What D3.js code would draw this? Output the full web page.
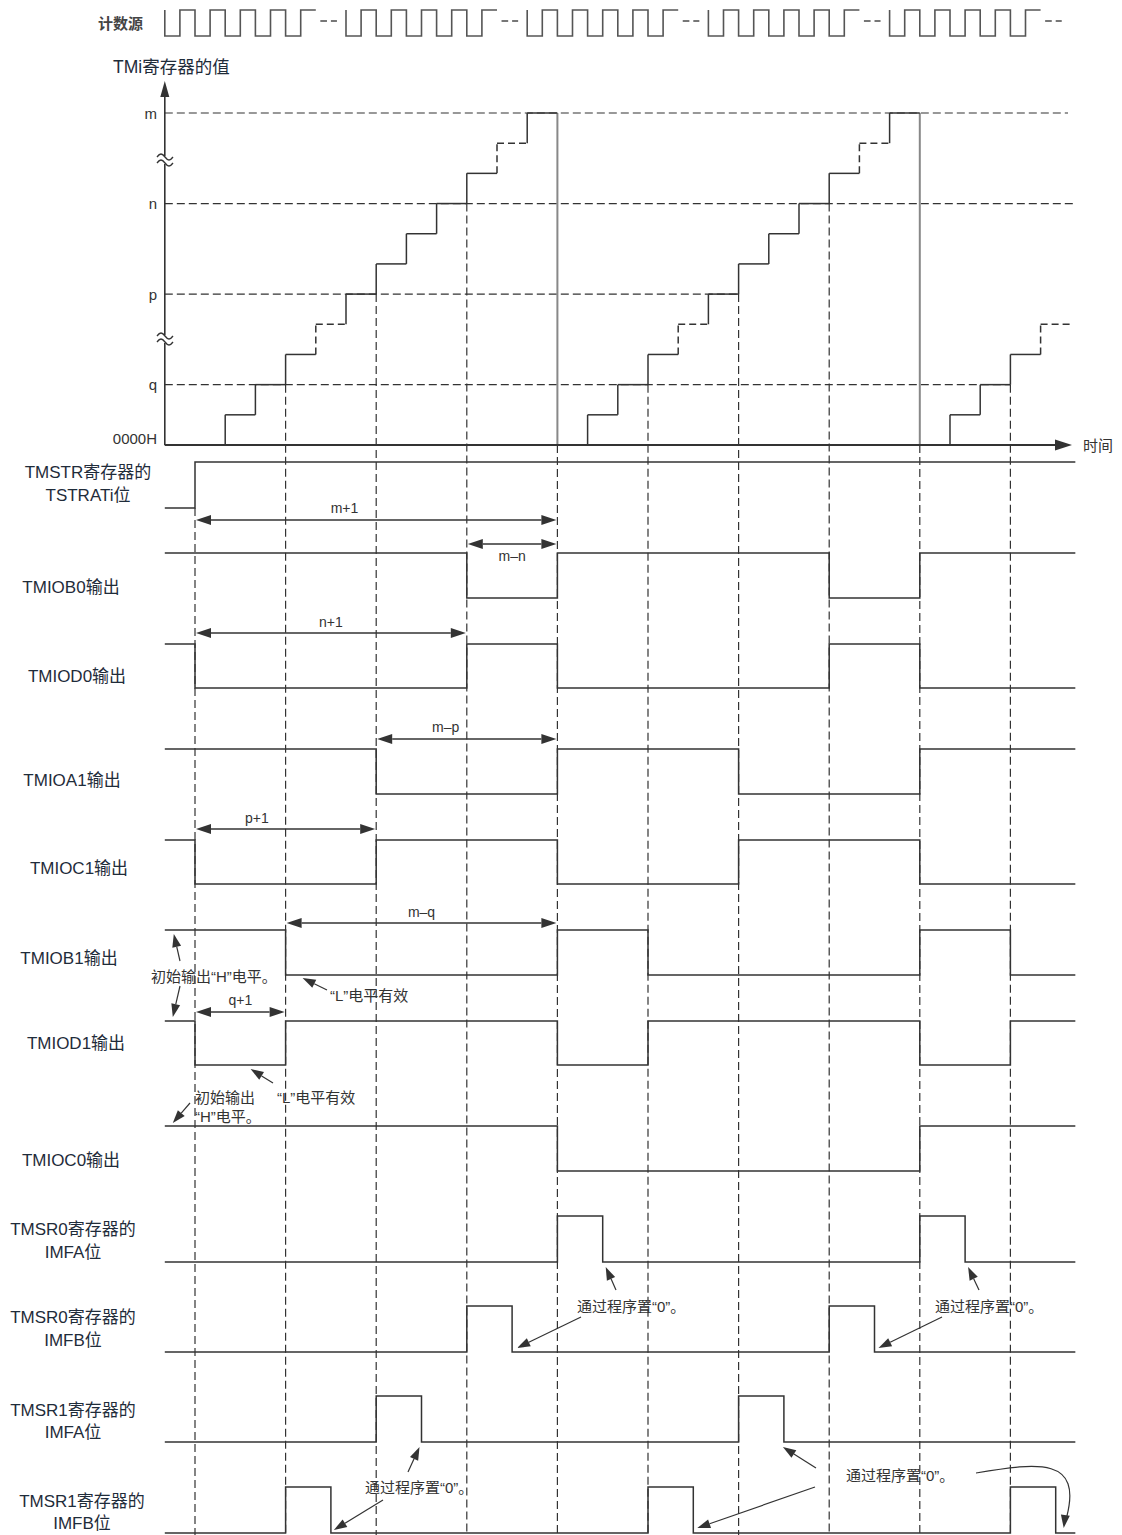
<!DOCTYPE html>
<html><head><meta charset="utf-8">
<script src="https://cdn.jsdelivr.net/npm/d3@7"></script>
<style>
body{margin:0;background:#fff}
svg{display:block}
text{font-family:"Liberation Sans",Arial,"Noto Sans CJK SC",sans-serif}
</style>
</head><body>
<svg id="chart" width="1122" height="1535"></svg>
<script>
// ---------------- data ----------------
const tFirst = -1, tLast = 29, tSignalEnd = 29.15;
const levelLabels = ["m", "n", "p", "q", "0000H"];
const levelValues = [11, 8, 5, 2, 0];
// counter value for each count interval starting at t = -1, 0, 1, ... 28
const counterValues = [0, 0,1,2,3,4,5,6,7,8,9,10,11, 0,1,2,3,4,5,6,7,8,9,10,11, 0,1,2,3,4];
const omittedValues = [4, 10];           // drawn dashed (counts omitted)
const markerTimes = [0, 3, 6, 9, 12, 15, 18, 21, 24, 27];
const clockGroups = [-1, 5, 11, 17, 23];
const clockPulsesPerGroup = 5;

const signalLabels = [
  ["TMSTR寄存器的", "TSTRATi位"],
  ["TMIOB0输出"],
  ["TMIOD0输出"],
  ["TMIOA1输出"],
  ["TMIOC1输出"],
  ["TMIOB1输出"],
  ["TMIOD1输出"],
  ["TMIOC0输出"],
  ["TMSR0寄存器的", "IMFA位"],
  ["TMSR0寄存器的", "IMFB位"],
  ["TMSR1寄存器的", "IMFA位"],
  ["TMSR1寄存器的", "IMFB位"]
];
// [time, level] transitions (1 = H, 0 = L)
const signalEdges = [
  [[-1,0],[0,1]],
  [[-1,1],[9,0],[12,1],[21,0],[24,1]],
  [[-1,1],[0,0],[9,1],[12,0],[21,1],[24,0]],
  [[-1,1],[6,0],[12,1],[18,0],[24,1]],
  [[-1,1],[0,0],[6,1],[12,0],[18,1],[24,0]],
  [[-1,1],[3,0],[12,1],[15,0],[24,1],[27,0]],
  [[-1,1],[0,0],[3,1],[12,0],[15,1],[24,0],[27,1]],
  [[-1,1],[12,0],[24,1]],
  [[-1,0],[12,1],[13.5,0],[24,1],[25.5,0]],
  [[-1,0],[9,1],[10.5,0],[21,1],[22.5,0]],
  [[-1,0],[6,1],[7.5,0],[18,1],[19.5,0]],
  [[-1,0],[3,1],[4.5,0],[15,1],[16.5,0],[27,1],[28.5,0]]
];
const dimLabels = ["m+1", "m–n", "n+1", "m–p", "p+1", "m–q", "q+1"];
const dimStart  = [0, 9, 0, 6, 0, 3, 0];
const dimEnd    = [12, 12, 9, 12, 6, 12, 3];
const noteInitH = "初始输出“H”电平。";
const noteLActive = "“L”电平有效";
const noteInit1 = "初始输出";
const noteInit2 = "“H”电平。";
const noteClear = "通过程序置“0”。";

// ---------------- layout ----------------
const X0 = 195, STEP = 30.2;
const x = d3.scaleLinear().domain([tFirst, tLast]).range([X0 - STEP, X0 + tLast * STEP]);
const yC = d3.scaleLinear().domain([0, 11]).range([445, 113]);
const rowHigh = [462,553,644,749,840,930,1021,1126,1216,1306,1396,1487];
const rowLow  = [508,598,688,794,884,975,1065,1171,1262,1352,1442,1533];
const labelX  = [88,71,77,72,79,69,76,71,73,73,73,82];
const labelY  = [[472,495],[587],[676],[780],[868],[958],[1043],[1160],[1229,1252],[1317,1340],[1410,1432],[1501,1523]];
const dimY      = [520,544,633,739,829,923,1012];
const dimLabelY = [508,556,622,727,818,912,1000];
const dimLabelT = [4.95,10.5,4.5,8.3,2.05,7.5,1.5];
const levelLineEnd = [1068, 1075, x(18), x(27), null];
const BOTTOM = 1535;

const INK = "#333", GRAY = "#888", LABEL = "#1f2c3a";
const svg = d3.select("#chart");

function head(g, x1, y1, x2, y2, len, hw, color) {
  const dx = x2 - x1, dy = y2 - y1, d = Math.hypot(dx, dy);
  const ux = dx / d, uy = dy / d;
  const bx = x2 - ux * len, by = y2 - uy * len;
  g.append("path")
    .attr("d", `M${x2},${y2}L${bx - uy * hw},${by + ux * hw}L${bx + uy * hw},${by - ux * hw}Z`)
    .attr("fill", color || INK);
  return [bx, by];
}
function arrow(g, x1, y1, x2, y2, len, hw) {
  const [bx, by] = head(g, x1, y1, x2, y2, len || 13, hw || 4.5);
  g.append("line").attr("x1", x1).attr("y1", y1).attr("x2", bx).attr("y2", by)
    .attr("stroke", INK).attr("stroke-width", 1.2);
}

// ---------------- clock ----------------
const clk = svg.append("g");
clk.append("text").attr("x", 98).attr("y", 23).attr("dominant-baseline", "central")
  .attr("font-size", 15).attr("font-weight", "bold").attr("fill", "#444").text("计数源");
const cTop = 10, cBot = 36, cDash = 21;
clockGroups.forEach(g0 => {
  let d = `M${x(g0)},${cTop}L${x(g0)},${cBot}`;
  for (let k = 0; k < clockPulsesPerGroup; k++) {
    d += `L${x(g0 + k + 0.5)},${cBot}L${x(g0 + k + 0.5)},${cTop}L${x(g0 + k + 1)},${cTop}`;
    if (k < clockPulsesPerGroup - 1) d += `L${x(g0 + k + 1)},${cBot}`;
  }
  clk.append("path").attr("d", d).attr("fill", "none").attr("stroke", "#555").attr("stroke-width", 1.6);
  [[5.15, 5.37], [5.5, 5.7]].forEach(([a, b]) => {
    clk.append("line").attr("x1", x(g0 + a)).attr("x2", x(g0 + b)).attr("y1", cDash).attr("y2", cDash)
      .attr("stroke", "#555").attr("stroke-width", 1.6);
  });
});

// ---------------- counter plot ----------------
const plot = svg.append("g");
plot.append("text").attr("x", 113).attr("y", 67).attr("dominant-baseline", "central")
  .attr("font-size", 17.5).attr("fill", LABEL).text("TMi寄存器的值");

// level dashed lines and labels
levelValues.forEach((v, i) => {
  if (levelLineEnd[i] !== null) {
    plot.append("line").attr("x1", x(-1)).attr("x2", levelLineEnd[i]).attr("y1", yC(v)).attr("y2", yC(v))
      .attr("stroke", INK).attr("stroke-width", 1.2).attr("stroke-dasharray", "8,4");
  }
  plot.append("text").attr("x", 157).attr("y", v === 0 ? yC(v) - 7 : yC(v))
    .attr("dominant-baseline", "central").attr("text-anchor", "end")
    .attr("font-size", 15).attr("fill", "#333").text(levelLabels[i]);
});

// marker dashed verticals
markerTimes.forEach(t => {
  let yStart;
  if (t === 0) yStart = rowLow[0];
  else if (t % 12 === 0) {
    plot.append("line").attr("x1", x(t)).attr("x2", x(t)).attr("y1", yC(11)).attr("y2", yC(0))
      .attr("stroke", GRAY).attr("stroke-width", 2);
    yStart = yC(0);
  } else {
    yStart = yC(counterValues[t]);   // value just before the step (index t corresponds to interval t-1)
  }
  svg.append("line").attr("x1", x(t)).attr("x2", x(t)).attr("y1", yStart).attr("y2", BOTTOM)
    .attr("stroke", INK).attr("stroke-width", 1.2).attr("stroke-dasharray", "8,4");
});

// staircase
counterValues.forEach((v, i) => {
  const t0 = tFirst + i, t1 = t0 + 1;
  const dashed = omittedValues.includes(v);
  const last = i === counterValues.length - 1;
  plot.append("line").attr("x1", x(t0)).attr("x2", x(t1)).attr("y1", yC(v)).attr("y2", yC(v))
    .attr("stroke", INK).attr("stroke-width", 1.5).attr("stroke-dasharray", dashed ? "7,4" : null);
  if (!last) {
    const nv = counterValues[i + 1];
    if (nv > v) {
      plot.append("line").attr("x1", x(t1)).attr("x2", x(t1)).attr("y1", yC(v)).attr("y2", yC(nv))
        .attr("stroke", INK).attr("stroke-width", 1.5)
        .attr("stroke-dasharray", omittedValues.includes(nv) ? "7,4" : null);
    }
  }
});

// axes
plot.append("line").attr("x1", x(-1)).attr("x2", x(-1)).attr("y1", yC(0)).attr("y2", 95)
  .attr("stroke", INK).attr("stroke-width", 1.6);
head(plot, x(-1), 120, x(-1), 81, 16, 4.5);
plot.append("line").attr("x1", x(-1)).attr("x2", 1060).attr("y1", yC(0)).attr("y2", yC(0))
  .attr("stroke", INK).attr("stroke-width", 1.8);
head(plot, 1000, yC(0), 1072, yC(0), 17, 5.5);
plot.append("text").attr("x", 1083).attr("y", yC(0)).attr("dominant-baseline", "central")
  .attr("font-size", 15).attr("fill", "#333").text("时间");
// axis breaks
[160, 339].forEach(yb => {
  plot.append("rect").attr("x", x(-1) - 2).attr("y", yb - 4).attr("width", 4).attr("height", 8).attr("fill", "#fff");
  [-3, 3].forEach(o => {
    plot.append("path").attr("d", `M157,${yb + o}c3,-4 5,-4 8,0s5,4 8,0`)
      .attr("fill", "none").attr("stroke", INK).attr("stroke-width", 1.3);
  });
});

// ---------------- signals ----------------
const sig = svg.append("g");
const stepLine = d3.line().curve(d3.curveStepAfter);
signalEdges.forEach((edges, r) => {
  const lv = l => (l ? rowHigh[r] : rowLow[r]);
  const pts = edges.map(([t, l]) => [x(t), lv(l)]);
  pts.push([x(tSignalEnd), lv(edges[edges.length - 1][1])]);
  sig.append("path").attr("d", stepLine(pts)).attr("fill", "none")
    .attr("stroke", INK).attr("stroke-width", 1.5);
  signalLabels[r].forEach((s, j) => {
    sig.append("text").attr("x", labelX[r]).attr("y", labelY[r][j])
      .attr("dominant-baseline", "central").attr("text-anchor", "middle")
      .attr("font-size", 17).attr("fill", LABEL).text(s);
  });
});

// ---------------- dimension arrows ----------------
const dim = svg.append("g");
dimLabels.forEach((lab, i) => {
  const xa = x(dimStart[i]) + 1, xb = x(dimEnd[i]) - 1, yy = dimY[i];
  const [b1] = head(dim, xb, yy, xa, yy, 15, 5);
  const [b2] = head(dim, xa, yy, xb, yy, 15, 5);
  dim.append("line").attr("x1", b1).attr("x2", b2).attr("y1", yy).attr("y2", yy)
    .attr("stroke", INK).attr("stroke-width", 1.5);
  dim.append("text").attr("x", x(dimLabelT[i])).attr("y", dimLabelY[i])
    .attr("dominant-baseline", "central").attr("text-anchor", "middle")
    .attr("font-size", 14).attr("fill", "#333").text(lab);
});

// ---------------- annotations ----------------
const ann = svg.append("g");
function note(txt, xx, yy) {
  ann.append("text").attr("x", xx).attr("y", yy).attr("dominant-baseline", "central")
    .attr("font-size", 15).attr("fill", "#333").text(txt);
}
note(noteInitH, 151, 976);
arrow(ann, 180, 961, x(-1) + 9, rowHigh[5] + 4);
arrow(ann, 180, 986, x(-1) + 8, rowHigh[6] - 4);
note(noteLActive, 330, 995);
arrow(ann, 327, 990, x(3) + 17, rowLow[5] + 3);
note(noteLActive, 277, 1097);
arrow(ann, 273, 1083, x(3) - 35, rowLow[6] + 4);
note(noteInit1, 195, 1097);
note(noteInit2, 195, 1116);
arrow(ann, 190, 1103, x(-1) + 8, rowHigh[7] - 3);

note(noteClear, 577, 1306);
arrow(ann, 616, 1290, x(13.5) + 3, rowLow[8] + 5);
arrow(ann, 581, 1317, x(10.5) + 5, rowLow[9] - 4);
note(noteClear, 935, 1306);
arrow(ann, 979, 1290, x(25.5) + 3, rowLow[8] + 5);
arrow(ann, 942, 1317, x(22.5) + 4, rowLow[9] - 4);
note(noteClear, 365, 1487);
arrow(ann, 408, 1472, x(7.5) - 2, rowLow[10] + 5);
arrow(ann, 383, 1500, x(4.5) + 3, rowLow[11] - 3);
note(noteClear, 846, 1475);
arrow(ann, 816, 1468, x(19.5) - 1, rowLow[10] + 5);
arrow(ann, 815, 1487, x(16.5) + 4, rowLow[11] - 5);
// curved arrow to last pulse
const cx1 = 1040, cy1 = 1462, cx2 = 1082, cy2 = 1458;
const ex = x(28.5) + 8, ey = rowLow[11] - 8;
ann.append("path").attr("d", `M976,1473C${cx1},${cy1} ${cx2},${cy2} ${ex + 3},${ey - 8}`)
  .attr("fill", "none").attr("stroke", INK).attr("stroke-width", 1.2);
head(ann, ex + 3, ey - 20, ex, ey + 3, 13, 4.5);
</script>
</body></html>
